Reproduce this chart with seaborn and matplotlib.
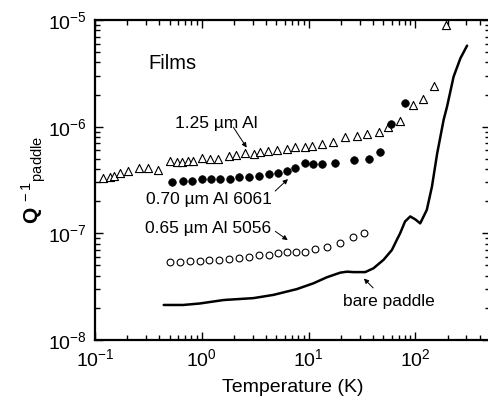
import numpy as np
import pandas as pd
import matplotlib
matplotlib.use("Agg")
import matplotlib.pyplot as plt
import seaborn as sns

# 1.25 um Al film (open triangles)
T_al125 = [0.12, 0.138, 0.152, 0.171, 0.202, 0.258, 0.316, 0.387, 0.505, 0.583,
           0.65, 0.75, 0.834, 1.0, 1.2, 1.43, 1.78, 2.08, 2.55, 3.05, 3.52,
           4.15, 5.05, 6.26, 7.5, 9.3, 10.7, 13.3, 17.1, 22.0, 28.4, 35.2,
           45.2, 56.0, 72.0, 96.0, 119.0, 148.0, 194.0]
Q_al125 = [3.28e-7, 3.36e-7, 3.45e-7, 3.65e-7, 3.87e-7, 4.07e-7, 4.07e-7, 3.93e-7,
           4.81e-7, 4.7e-7, 4.7e-7, 4.75e-7, 4.81e-7, 5.06e-7, 5.0e-7, 5.0e-7,
           5.31e-7, 5.4e-7, 5.62e-7, 5.6e-7, 5.8e-7, 5.9e-7, 6.05e-7, 6.2e-7,
           6.4e-7, 6.5e-7, 6.6e-7, 6.88e-7, 7.24e-7, 7.95e-7, 8.2e-7, 8.55e-7,
           9.0e-7, 9.87e-7, 1.13e-6, 1.59e-6, 1.82e-6, 2.4e-6, 9.0e-6]

# 0.70 um Al 6061 (filled circles)
T_al6061 = [0.53, 0.66, 0.81, 1.0, 1.22, 1.49, 1.82, 2.25, 2.76, 3.47, 4.3, 5.19,
            6.26, 7.5, 9.3, 11.1, 13.4, 17.5, 26.4, 37.0, 46.9, 59.4, 80.0]
Q_al6061 = [3.05e-7, 3.1e-7, 3.12e-7, 3.21e-7, 3.24e-7, 3.24e-7, 3.24e-7, 3.36e-7,
            3.4e-7, 3.45e-7, 3.58e-7, 3.65e-7, 3.85e-7, 4.07e-7, 4.54e-7, 4.5e-7,
            4.5e-7, 4.6e-7, 4.88e-7, 4.97e-7, 5.75e-7, 1.06e-6, 1.68e-6]

# 0.65 um Al 5056 (open circles)
T_al5056 = [0.505, 0.63, 0.78, 0.96, 1.18, 1.45, 1.8, 2.24, 2.78, 3.44, 4.27,
            5.15, 6.26, 7.6, 9.3, 11.5, 14.8, 19.8, 25.8, 33.2]
Q_al5056 = [5.36e-8, 5.4e-8, 5.5e-8, 5.55e-8, 5.6e-8, 5.64e-8, 5.76e-8, 5.9e-8,
            6.04e-8, 6.27e-8, 6.27e-8, 6.5e-8, 6.65e-8, 6.7e-8, 6.7e-8, 7.1e-8,
            7.5e-8, 8.2e-8, 9.3e-8, 1.0e-7]

# bare paddle (line)
T_bare = [0.44, 0.67, 0.96, 1.6, 3.05, 4.7, 7.76, 11.1, 14.8, 19.8, 22.9, 26.4,
          33.9, 40.5, 50.3, 60.3, 67.0, 72.0, 80.0, 89.5, 100.0, 111.0, 128.0,
          143.0, 160.0, 184.0, 198.0, 228.0, 264.0, 305.0]
Q_bare = [2.13e-8, 2.13e-8, 2.2e-8, 2.37e-8, 2.47e-8, 2.65e-8, 3.0e-8, 3.4e-8,
          3.87e-8, 4.28e-8, 4.37e-8, 4.33e-8, 4.33e-8, 4.7e-8, 5.64e-8, 6.98e-8,
          8.67e-8, 1.0e-7, 1.29e-7, 1.44e-7, 1.35e-7, 1.24e-7, 1.66e-7, 2.74e-7,
          5.6e-7, 1.16e-6, 1.54e-6, 2.94e-6, 4.37e-6, 5.75e-6]

sns.set_style("ticks")
plt.rcParams['font.family'] = ['Liberation Sans', 'DejaVu Sans']
plt.rcParams['mathtext.fontset'] = 'custom'
plt.rcParams['mathtext.rm'] = 'Liberation Sans'
plt.rcParams['mathtext.it'] = 'Liberation Sans:italic'
plt.rcParams['mathtext.bf'] = 'Liberation Sans:bold'
plt.rcParams['axes.unicode_minus'] = False
for k in ['text.color', 'axes.labelcolor', 'xtick.color', 'ytick.color',
          'axes.edgecolor']:
    plt.rcParams[k] = 'black'

fig = plt.figure(figsize=(4.88, 4.07), dpi=100)
ax = fig.add_axes([95 / 488, 67 / 407, 395 / 488, 320 / 407])

sns.lineplot(x=T_bare, y=Q_bare, color='black', lw=1.8, estimator=None,
             sort=False, ax=ax)
sns.scatterplot(x=T_al125, y=Q_al125, marker='^', s=34, color='white',
                edgecolor='black', linewidth=0.8, ax=ax)
sns.scatterplot(x=T_al6061, y=Q_al6061, marker='o', s=30, color='black',
                edgecolor='black', linewidth=0.5, ax=ax)
sns.scatterplot(x=T_al5056, y=Q_al5056, marker='o', s=24, color='white',
                edgecolor='black', linewidth=0.8, ax=ax)

ax.set_xscale('log')
ax.set_yscale('log')
ax.set_xlim(0.1, 500)
ax.set_ylim(1e-8, 1e-5)

for s in ax.spines.values():
    s.set_linewidth(1.6)
ax.tick_params(which='both', direction='in', top=True, right=True,
               labelsize=14, width=1, pad=6)
ax.tick_params(which='major', length=6)
ax.tick_params(which='minor', length=3.5)

ax.set_xlabel('Temperature (K)', fontsize=14, labelpad=6)
ax.set_ylabel(r'$\mathbf{Q}^{\ -1}{}_{\rm paddle}$', fontsize=15, labelpad=0)

arrow = dict(arrowstyle='-|>', color='black', lw=0.7, mutation_scale=7)
ax.text(0.314, 3.95e-6, 'Films', fontsize=14.5, va='center', ha='left')

ax.text(0.562, 1.08e-6, '1.25 µm Al', fontsize=12.5, va='center', ha='left')
ax.annotate('', xy=(2.72, 6.05e-7), xytext=(1.91, 1.04e-6), arrowprops=arrow)

ax.text(0.30, 2.06e-7, '0.70 µm Al 6061', fontsize=12.5, va='center', ha='left')
ax.annotate('', xy=(6.7, 3.36e-7), xytext=(4.65, 2.39e-7), arrowprops=arrow)

ax.text(0.294, 1.1e-7, '0.65 µm Al 5056', fontsize=12.5, va='center', ha='left')
ax.annotate('', xy=(6.7, 8.35e-8), xytext=(4.65, 1.08e-7), arrowprops=arrow)

ax.text(21.1, 2.28e-8, 'bare paddle', fontsize=12.5, va='center', ha='left')
ax.annotate('', xy=(31.6, 3.93e-8), xytext=(42.0, 2.95e-8), arrowprops=arrow)

fig.savefig('out.png', dpi=100)
